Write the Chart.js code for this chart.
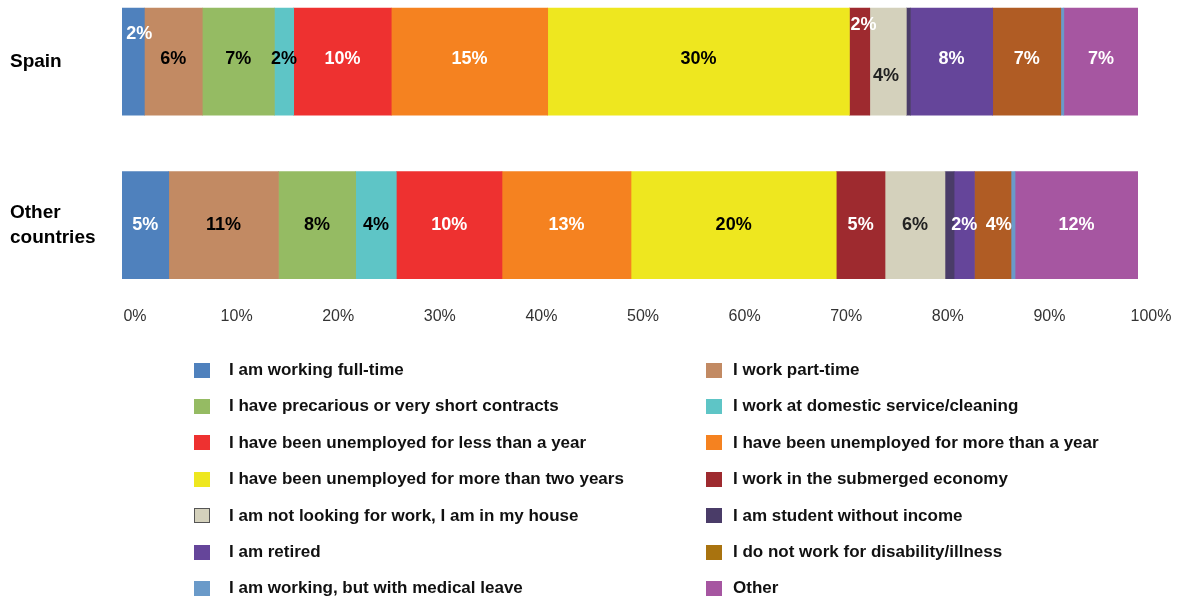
<!DOCTYPE html>
<html>
<head>
<meta charset="utf-8">
<title>Employment situation</title>
<script src="https://cdn.jsdelivr.net/npm/chart.js@4.4.1/dist/chart.umd.min.js"></script>
<style>
  html, body { margin: 0; padding: 0; background: #fff; }
  #page {
    position: relative;
    width: 1179px;
    height: 598px;
    overflow: hidden;
    font-family: "Liberation Sans", Arial, sans-serif;
  }
  #chartBox { position: absolute; left: 0; top: -20px; width: 1179px; height: 346px; }
  #legend { position: absolute; left: 0; top: 0; width: 1179px; height: 598px; }
  .swatch { position: absolute; width: 16px; height: 15px; box-sizing: border-box; }
  .legend-text {
    position: absolute;
    font-size: 17px;
    font-weight: bold;
    line-height: 20px;
    color: #111;
    white-space: nowrap;
  }
</style>
</head>
<body>
<div id="page">
  <div id="chartBox"><canvas id="situationChart"></canvas></div>
  <div id="legend"></div>
</div>
<script>
const countries = ["Spain", ["Other", "countries"]];

const situations = [
  "I am working full-time",
  "I work part-time",
  "I have precarious or very short contracts",
  "I work at domestic service/cleaning",
  "I have been unemployed for less than a year",
  "I have been unemployed for more than a year",
  "I have been unemployed for more than two years",
  "I work in the submerged economy",
  "I am not looking for work, I am in my house",
  "I am student without income",
  "I am retired",
  "I do not work for disability/illness",
  "I am working, but with medical leave",
  "Other",
];

// share of respondents (%), one entry per situation
const spainShare = [2.2, 5.7, 7.1, 1.9, 9.6, 15.4, 29.7, 2.0, 3.6, 0.4, 8.1, 6.7, 0.3, 7.3];
const otherShare = [4.6, 10.8, 7.6, 4.0, 10.4, 12.7, 20.2, 4.8, 5.9, 0.9, 2.0, 3.6, 0.4, 12.1];

const percentTicks = [0, 10, 20, 30, 40, 50, 60, 70, 80, 90, 100];

const colours = [
  "#4f81bd", "#c28a63", "#95bb63", "#5ec5c6", "#ee3130", "#f58220", "#eee71f",
  "#9e2a2f", "#d4d1bc", "#4a3c68", "#65459a", "#b05c24", "#6a9ac9", "#a656a1",
];
// the legend shows the disability swatch a little more golden than its bars
const swatchColours = colours.map((c, i) => (i === 11 ? "#a9730f" : c));
const darkText = [false, true, true, true, false, false, true, false, true, false, false, false, false, false];

// label nudges for the crowded segments: "row-series" -> [dx, dy]
const labelNudge = {
  "0-0": [6, -25],
  "0-7": [4, -34],
  "0-8": [-2, 17],
  "1-11": [6, 0],
};
const rowNudge = [-3, 0];

const segmentLabels = {
  id: "segmentLabels",
  afterDatasetsDraw(chart) {
    const ctx = chart.ctx;
    ctx.save();
    ctx.font = "bold 18px 'Liberation Sans', Arial, sans-serif";
    ctx.textAlign = "center";
    ctx.textBaseline = "middle";
    chart.data.datasets.forEach((ds, di) => {
      const meta = chart.getDatasetMeta(di);
      meta.data.forEach((bar, row) => {
        const value = ds.data[row];
        if (value < 1) return;
        const nudge = labelNudge[row + "-" + di] || [0, 0];
        const x = (bar.x + bar.base) / 2 + nudge[0];
        const y = bar.y + rowNudge[row] + nudge[1];
        ctx.fillStyle = darkText[di] ? (di === 8 ? "#222" : "#000") : "#fff";
        ctx.fillText(Math.round(value) + "%", x, y);
      });
    });
    ctx.restore();
  },
};

const chart = new Chart(document.getElementById("situationChart"), {
  type: "bar",
  data: {
    labels: countries,
    datasets: situations.map((name, i) => ({
      label: name,
      data: [spainShare[i], otherShare[i]],
      backgroundColor: colours[i],
      borderWidth: 0,
      barThickness: 107,
    })),
  },
  options: {
    indexAxis: "y",
    responsive: true,
    maintainAspectRatio: false,
    animation: false,
    layout: { padding: { left: 10, right: 41, top: 0, bottom: 0 } },
    plugins: {
      legend: { display: false },
      tooltip: { enabled: false },
    },
    scales: {
      x: {
        stacked: true,
        min: percentTicks[0],
        max: percentTicks[percentTicks.length - 1],
        afterBuildTicks(scale) {
          scale.ticks = percentTicks.map((v) => ({ value: v }));
        },
        grid: { display: false, drawTicks: false },
        border: { display: false },
        ticks: {
          callback: (v) => v + "%",
          color: "#333",
          font: { family: "'Liberation Sans', Arial, sans-serif", size: 16 },
          labelOffset: 13,
          padding: 0,
        },
      },
      y: {
        stacked: true,
        grid: { display: false, drawTicks: false },
        border: { display: false },
        ticks: {
          crossAlign: "far",
          color: "#000",
          padding: 0,
          font: { family: "'Liberation Sans', Arial, sans-serif", size: 19, weight: "bold", lineHeight: 1.3 },
        },
        afterFit(scale) {
          // labels sit beside the bars, so no room is needed above or below
          scale.width = 112;
          scale.paddingTop = 0;
          scale.paddingBottom = 0;
        },
      },
    },
  },
  plugins: [segmentLabels],
});

// two-column legend under the chart, row by row in series order
const legendBox = document.getElementById("legend");
chart.data.datasets.forEach((ds, i) => {
  const row = Math.floor(i / 2);
  const col = i % 2;
  const centre = 370 + row * 36.4;

  const swatch = document.createElement("div");
  swatch.className = "swatch";
  swatch.style.left = (col === 0 ? 194 : 706) + "px";
  swatch.style.top = centre - 7.5 + "px";
  swatch.style.background = swatchColours[i];
  if (i === 8) swatch.style.border = "1px solid #555";
  legendBox.appendChild(swatch);

  const text = document.createElement("div");
  text.className = "legend-text";
  text.style.left = (col === 0 ? 229 : 733) + "px";
  text.style.top = centre - 10 + "px";
  text.textContent = ds.label;
  legendBox.appendChild(text);
});
</script>
</body>
</html>
